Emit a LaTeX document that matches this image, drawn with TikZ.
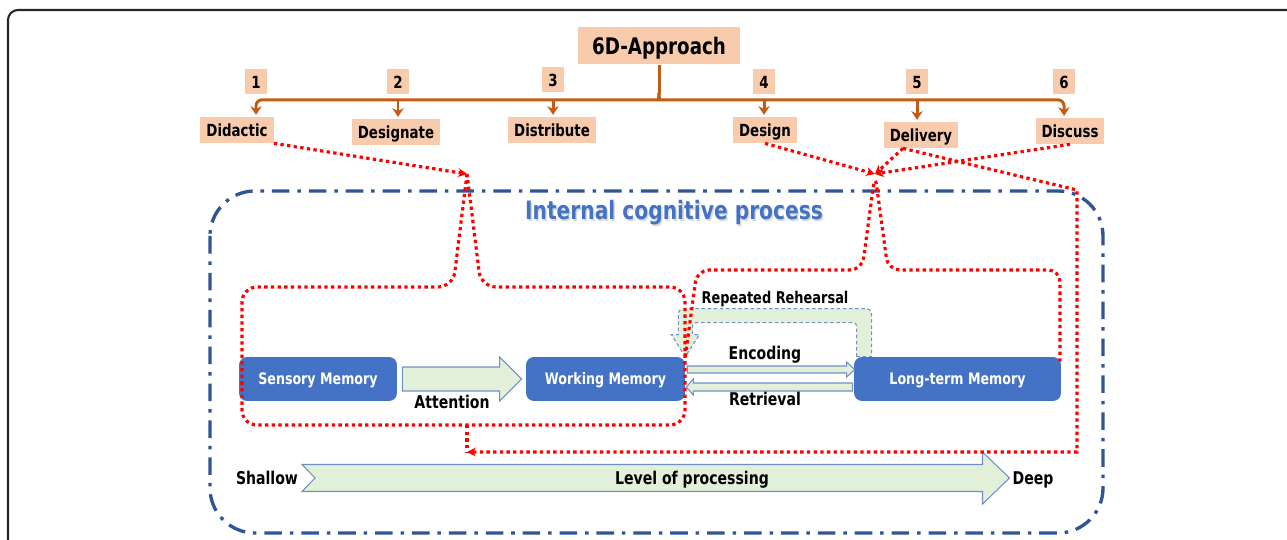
\documentclass[tikz,border=0pt]{standalone}
\usepackage{xcolor}
\usepackage{fontspec}
\setmainfont{DejaVu Sans}[FakeStretch=0.8]
\usepackage{tikz}
\usetikzlibrary{arrows.meta,calc}

\definecolor{peach}{HTML}{F8CBAD}
\definecolor{rust}{HTML}{C55A11}
\definecolor{memblue}{HTML}{4472C4}
\definecolor{frameblue}{HTML}{2F5597}
\definecolor{palegreen}{HTML}{E2F0D9}
\definecolor{arrowline}{HTML}{6F8FC6}

% horizontal block arrow: style, start, end, half body, half head, head length
\newcommand{\blockarr}[6]{%
\draw[#1] ($#2+(0,{-(#4)})$) -- ($#3+({-(#6)},{-(#4)})$) -- ($#3+({-(#6)},{-(#5)})$) -- #3
 -- ($#3+({-(#6)},#5)$) -- ($#3+({-(#6)},#4)$) -- ($#2+(0,#4)$) -- cycle;}

\begin{document}
\begin{tikzpicture}[x=0.02cm,y=-0.02cm,
lbl/.style={fill=peach, font=\bfseries\fontsize{9.5}{11}\selectfont, inner xsep=0.12cm, inner ysep=0, minimum height=0.52cm, text height=6.9pt, text depth=0pt},
num/.style={fill=peach, font=\bfseries\fontsize{9.5}{11}\selectfont, minimum width=0.44cm, minimum height=0.5cm, inner sep=0, text height=6.9pt, text depth=0pt},
mem/.style={rounded corners=0.16cm, fill=memblue, text=white, font=\bfseries\fontsize{9}{11}\selectfont, minimum height=0.88cm, inner sep=0, text height=6.6pt, text depth=0pt},
txt/.style={font=\bfseries\fontsize{10}{12}\selectfont, inner sep=1pt, text height=7.3pt, text depth=0pt},
brc/.style={rust, line width=1.7pt},
rdot/.style={red, line width=1.8pt, dash pattern=on 1.9pt off 1.9pt},
garrow/.style={fill=palegreen, draw=arrowline, line width=0.6pt},
]
\useasboundingbox (0,0) rectangle (1287,540);

\draw[line width=1.2pt, black!85, rounded corners=0.2cm] (8,700) -- (8,10) -- (1400,10);

% the six steps
\node[fill=peach, font=\bfseries\fontsize{13}{15}\selectfont, minimum width=3.26cm, minimum height=0.74cm, inner sep=0, text height=9.5pt, text depth=0pt] (ap) at (659,46) {6D-Approach};

\node[num] (n1) at (256,82) {1};
\node[num] (n2) at (398,82) {2};
\node[num] (n3) at (553,80) {3};
\node[num] (n4) at (764,82) {4};
\node[num] (n5) at (917,82) {5};
\node[num] (n6) at (1064,82) {6};

\node[lbl] (l1) at (237,130) {Didactic};
\node[lbl] (l2) at (396,132) {Designate};
\node[lbl] (l3) at (552,130) {Distribute};
\node[lbl] (l4) at (765,130) {Design};
\node[lbl] (l5) at (921,135) {Delivery};
\node[lbl] (l6) at (1070,131) {Discuss};

\coordinate (bar) at ($(ap.south)+(0,35)$);
\draw[brc] (ap.south) -- ($(bar)+(0,-7)$);
\draw[brc, rounded corners=0.12cm, -{Stealth[length=5pt,width=6.5pt]}, shorten >=1pt] ($(bar)+(0,-7)$) .. controls ($(bar)+(0,-1)$) and ($(bar)+(-1,0)$) .. ($(bar)+(-7,0)$) -- (bar -| n1) -- (n1 |- l1.north);
\draw[brc, rounded corners=0.12cm, -{Stealth[length=5pt,width=6.5pt]}, shorten >=1pt] ($(bar)+(0,-7)$) .. controls ($(bar)+(0,-1)$) and ($(bar)+(1,0)$) .. ($(bar)+(7,0)$) -- (bar -| n6) -- (n6 |- l6.north);
\foreach \i in {2,...,5}
  \draw[brc, -{Stealth[length=5pt,width=6.5pt]}, shorten >=1pt] (bar -| n\i) -- (n\i |- l\i.north);

% cognitive process
\draw[frameblue, line width=1.9pt, dash pattern=on 10pt off 4.5pt on 2pt off 4.5pt, rounded corners=0.9cm] (210,191) rectangle (1103,533);
\node[font=\bfseries\fontsize{14.4}{17}\selectfont, text=black!14] (ttlsh) at (675.5,214.5) {Internal cognitive process};
\node[font=\bfseries\fontsize{14.4}{17}\selectfont, text=memblue] (ttl) at (674,213) {Internal cognitive process};

\node[mem, minimum width=3.16cm] (sm) at (318,379) {Sensory Memory};
\node[mem, minimum width=3.18cm] (wm) at (605.5,379) {Working Memory};
\node[mem, minimum width=4.14cm] (lt) at (957.5,379) {Long-term Memory};

\coordinate (att1) at ($(sm.east)+(5,0)$);
\coordinate (att2) at ($(wm.west)+(-4,0)$);
\blockarr{garrow}{(att1)}{(att2)}{12}{22}{22}
\coordinate (enc1) at ($(wm.east)+(2,-9.5)$);
\coordinate (enc2) at ($(lt.west)+(1,-9.5)$);
\blockarr{garrow}{(enc1)}{(enc2)}{3.5}{7.5}{8}
\coordinate (ret1) at ($(lt.west)+(-1,8)$);
\coordinate (ret2) at ($(wm.east)+(1,8)$);
\blockarr{garrow}{(ret1)}{(ret2)}{4}{8}{-7}

% rehearsal loop from long-term back to working memory
\draw[garrow, dash pattern=on 2pt off 1.5pt] ($(lt.north west)+(3,0)$) -- ($(lt.north west)+(3,-26)$)
  .. controls ($(lt.north west)+(3,-34)$) .. ($(lt.north west)+(-5,-34)$) -- ($(wm.north east)+(15,-34)$)
  .. controls ($(wm.north east)+(7,-34)$) .. ($(wm.north east)+(7,-26)$) -- ($(wm.north east)+(7,-22)$)
  -- ($(wm.north east)+(14,-22)$) -- (wm.north east) -- ($(wm.north east)+(-14,-22)$) -- ($(wm.north east)+(-7,-22)$)
  -- ($(wm.north east)+(-7,-36)$) .. controls ($(wm.north east)+(-7,-48)$) .. ($(wm.north east)+(5,-48)$)
  -- ($(lt.north west)+(6,-48)$) .. controls ($(lt.north west)+(18,-48)$) .. ($(lt.north west)+(18,-36)$)
  -- ($(lt.north west)+(18,0)$) -- cycle;

\node[txt] (att) at (452,402) {Attention};
\node[txt] (enc) at (765,353) {Encoding};
\node[txt] (ret) at (765,399) {Retrieval};
\node[txt, font=\bfseries\fontsize{9.2}{11}\selectfont, text height=6.7pt] (reh) at (775,297.5) {Repeated Rehearsal};

% depth of processing
\node[txt] (sh) at (267,478) {Shallow};
\node[txt] (dp) at (1033,478) {Deep};
\draw[garrow] ($(sh.east)+(2,-13.5)$) -- ($(dp.west)+(-28,-13.5)$) -- ($(dp.west)+(-28,-26)$) -- ($(dp.west)+(-1,0)$)
  -- ($(dp.west)+(-28,26)$) -- ($(dp.west)+(-28,13.5)$) -- ($(sh.east)+(2,13.5)$) -- ($(sh.east)+(15,0)$) -- cycle;
\node[txt] (lev) at (692,478) {Level of processing};

% red links
\coordinate (j1) at (467,174);
\coordinate (j2) at (875,174);
\coordinate (b1) at (467,425);
\coordinate (m1) at (467,452);
\coordinate (d5) at ($(l5.south)+(-18,0)$);

\draw[rdot, -{Stealth[length=5pt,width=5pt]}] (l1.south east) -- (j1);
\draw[rdot, rounded corners=0.3cm] (j1) -- (453,287) -- (242,287) -- (242,425) -- (685,425) -- (685,287) -- (481,287) -- (j1);
\draw[rdot] (b1) -- (m1);

\draw[rdot, -{Stealth[length=5pt,width=5pt]}] (l4.south) -- (j2);
\draw[rdot, -{Stealth[length=5pt,width=5pt]}] (l6.south) -- (j2);
\draw[rdot, -{Stealth[length=5pt,width=5pt]}] (d5) -- (j2);
\draw[rdot, rounded corners=0.24cm] (wm.north east) -- (697,270) -- (862,270) -- (j2) -- (888,270) -- (1060,270) -- (1060,362);
\draw[rdot, -{Stealth[length=5pt,width=5pt]}] (d5) -- (1077,190) -- (1077,452) -- (m1);

\end{tikzpicture}
\end{document}
